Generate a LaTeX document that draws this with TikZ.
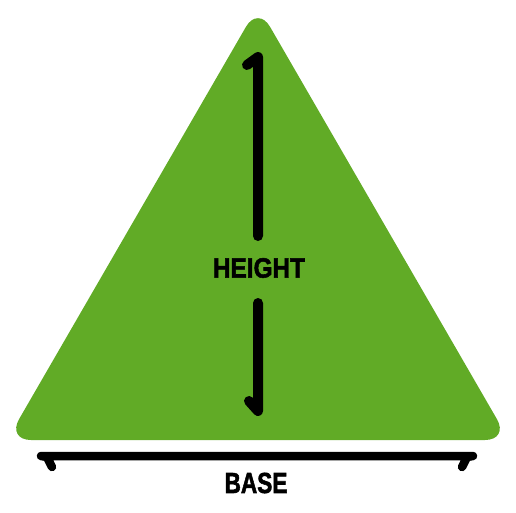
\documentclass[tikz,border=0pt]{standalone}
\usepackage{fontspec}
\setmainfont{Liberation Sans}
\newfontfamily\heavyfont[BoldFont={Liberation Sans Bold},BoldFeatures={FakeBold=2}]{Liberation Sans}
\definecolor{trigreen}{HTML}{61AB26}
\begin{document}
\begin{tikzpicture}[x=1pt,y=-1pt,
  mark line/.style={line width=10pt,line cap=round,line join=round,black},
  base line/.style={line width=8.5pt,line cap=round,line join=round,black},
  lbl/.style={inner sep=0pt}]
\useasboundingbox (0,0) rectangle (516,512);
\fill[trigreen,rounded corners=24pt] (258,440) -- (509,440) -- (258,6) -- (7,440) -- cycle;
% height markers
\coordinate (htop) at (258,57);
\coordinate (hmid1) at (258,236);
\coordinate (hmid2) at (258,303);
\coordinate (hbot) at (258,411);
\coordinate (htophook) at (247,65);
\coordinate (hbothook) at (249,401);
\draw[mark line] (htophook) -- (htop) -- (hmid1);
\draw[mark line] (hmid2) -- (hbot) -- (hbothook);
\node[lbl,xscale=0.87,font=\heavyfont\bfseries\fontsize{28}{28}\selectfont] (height) at (259,268) {HEIGHT};
% base marker
\coordinate (bl) at (41,456);
\coordinate (br) at (473,456);
\coordinate (blh) at (52,467);
\coordinate (brh) at (462,467);
\draw[base line] (blh) -- (47,457) -- (bl) -- (br) -- (467,457) -- (brh);
\node[lbl,xscale=0.78,font=\heavyfont\bfseries\fontsize{29}{29}\selectfont] (base) at (256,483) {BASE};
\end{tikzpicture}
\end{document}
